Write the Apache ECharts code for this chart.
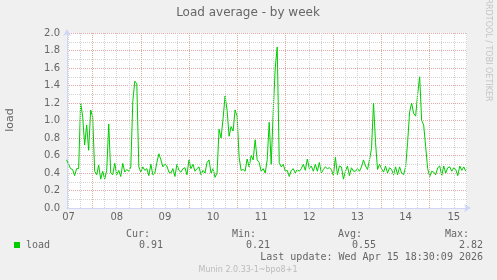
<!DOCTYPE html>
<html>
<head>
<meta charset="utf-8">
<script src="https://cdn.jsdelivr.net/npm/echarts@6/dist/echarts.min.js"></script>
<style>html,body{margin:0;padding:0;background:#f0f0f0}#c{width:497px;height:280px}</style>
</head>
<body>
<div id="c"></div>
<script>
// ---- data ----
// hours counted from Apr 07 00:00, one sample per hour
const startHour = 11;
const loadValues = [
  0.55,0.50,0.45,0.44,0.37,0.45,0.45,1.20,1.05,0.72,0.95,0.66,1.12,1.04,0.42,0.38,0.49,0.33,0.42,0.33,0.43,0.96,0.40,0.38,0.51,0.38,0.43,0.36,0.51,0.41,
  0.44,0.42,0.47,1.22,1.45,1.42,0.47,0.41,0.47,0.43,0.45,0.37,0.50,0.38,0.40,0.52,0.62,0.55,0.47,0.50,0.48,0.41,0.40,0.45,0.36,0.50,0.43,0.41,
  0.45,0.46,0.38,0.55,0.45,0.50,0.42,0.45,0.47,0.38,0.43,0.40,0.52,0.55,0.40,0.45,0.35,0.40,0.90,0.80,1.02,1.28,1.12,0.82,0.93,0.88,1.12,1.05,0.58,0.43,
  0.44,0.42,0.56,0.47,0.60,0.55,0.78,0.55,0.52,0.42,0.45,0.40,0.55,0.98,0.50,1.10,1.60,1.84,0.52,0.47,0.50,0.42,0.43,0.36,0.43,0.45,0.40,0.44,
  0.42,0.45,0.50,0.43,0.56,0.45,0.48,0.42,0.50,0.42,0.52,0.40,0.44,0.47,0.45,0.46,0.44,0.37,0.58,0.38,0.48,0.47,0.33,0.42,0.48,0.37,0.46,0.42,0.42,
  0.45,0.42,0.47,0.55,0.48,0.44,0.55,0.68,1.20,0.75,0.44,0.50,0.45,0.41,0.48,0.40,0.46,0.44,0.38,0.47,0.38,0.47,0.40,0.38,0.47,0.75,1.10,1.20,1.08,
  1.05,1.30,1.50,1.00,0.95,0.70,0.45,0.36,0.42,0.41,0.38,0.46,0.48,0.37,0.48,0.40,0.46,0.47,0.42,0.46,0.44,0.37,0.48,0.43,0.47,0.42
];
const dayLabels = ['07','08','09','10','11','12','13','14','15'];
const statHeaders = ['Cur:','Min:','Avg:','Max:'];
const statValues = ['0.91','0.21','0.55','2.82'];
const seriesName = 'load';
const titleText = 'Load average - by week';
const lastUpdate = 'Last update: Wed Apr 15 18:30:09 2026';
const footer = 'Munin 2.0.33-1~bpo8+1';
const sideText = 'RRDTOOL / TOBI OETIKER';

// ---- build ----
const xMin = 11.2, xMax = 210.6;
const seriesData = loadValues.map((v, i) => [startHour + i, v]);
const labelHours = dayLabels.map((d, i) => 12 + 24 * i);
const gridLines = [];
for (let h = 12; h < xMax; h += 6) {
  const major = h % 24 === 0;
  gridLines.push({ xAxis: h, lineStyle: { color: major ? '#e3a9a9' : '#d4d4d4', type: [1, 1], width: 1 } });
}
const FONT = '#666666';
const mono = '"DejaVu Sans Mono", monospace';
const sans = '"DejaVu Sans", sans-serif';
function txt(x, y, text, align, size, family, color, rot) {
  return { type: 'text', x: x, y: y, rotation: rot || 0, silent: true,
    style: { text: text, fill: color || FONT, font: (size || 10) + 'px ' + (family || mono), align: align || 'left', verticalAlign: 'middle' } };
}
const hdrRight = [150, 256, 362, 469];
const valRight = [163, 270, 376, 483];
const graphics = [
  txt(248, 13, titleText, 'center', 12, sans),
  txt(10, 120, 'load', 'center', 11, sans, FONT, Math.PI / 2),
  txt(488, 50, sideText, 'center', 8, sans, '#c4c4c4', -Math.PI / 2),
  { type: 'rect', shape: { x: 14, y: 242, width: 6, height: 6 }, style: { fill: '#00cc00' }, silent: true },
  txt(26, 245.5, seriesName, 'left'),
  txt(483, 257.5, lastUpdate, 'right'),
  txt(248, 269.5, footer, 'center', 8, sans, '#bbbbbb')
];
statHeaders.forEach((s, i) => graphics.push(txt(hdrRight[i], 234, s, 'right')));
statValues.forEach((s, i) => graphics.push(txt(valRight[i], 245.5, s, 'right')));

const chart = echarts.init(document.getElementById('c'), null, { renderer: 'canvas' });
chart.setOption({
  animation: false,
  backgroundColor: '#f0f0f0',
  grid: { left: 67, top: 33, width: 400, height: 175, show: true, backgroundColor: '#ffffff', borderWidth: 0 },
  xAxis: {
    type: 'value', min: xMin, max: xMax,
    axisLine: { show: true, lineStyle: { color: '#cfd6f8', width: 1 }, symbol: ['none', 'arrow'], symbolSize: [6, 7], symbolOffset: [0, 4] },
    axisTick: { show: false },
    splitLine: { show: false },
    axisLabel: {
      customValues: labelHours, color: FONT, fontSize: 10, fontFamily: sans, margin: 4,
      formatter: v => dayLabels[Math.round((v - 12) / 24)] || ''
    }
  },
  yAxis: {
    type: 'value', min: 0, max: 2, interval: 0.1,
    axisLine: { show: true, lineStyle: { color: '#cfd6f8', width: 1 }, symbol: ['none', 'arrow'], symbolSize: [6, 7], symbolOffset: [0, 4] },
    axisTick: { show: false },
    splitLine: { show: true, lineStyle: { color: ['#e3a9a9', '#d4d4d4'], type: [1, 1], width: 1 } },
    axisLabel: {
      color: FONT, fontSize: 10, fontFamily: sans, margin: 7,
      formatter: v => (Math.round(v * 10) % 2 === 0 ? v.toFixed(1) : '')
    }
  },
  series: [
    {
      type: 'line', data: [], silent: true, z: 1,
      markLine: { silent: true, symbol: 'none', label: { show: false }, animation: false, data: gridLines }
    },
    {
      name: seriesName, type: 'line', data: seriesData, showSymbol: false, z: 3,
      lineStyle: { color: '#00cc00', width: 1 }, itemStyle: { color: '#00cc00' }
    }
  ],
  graphic: graphics
});
</script>
</body>
</html>
